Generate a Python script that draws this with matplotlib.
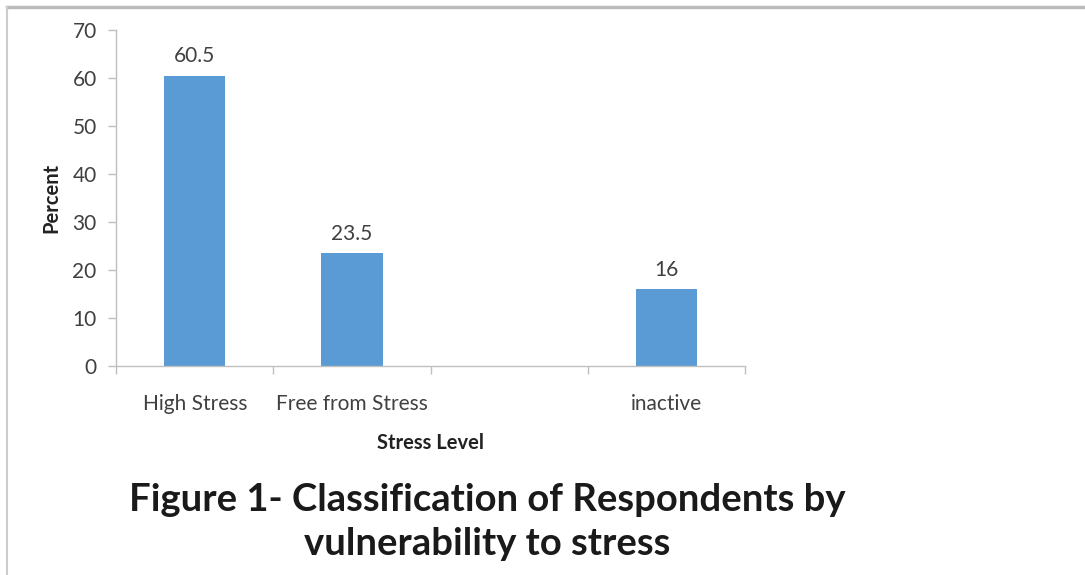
import matplotlib.pyplot as plt
from matplotlib.lines import Line2D
import numpy as np

categories = ['High Stress', 'Free from Stress', '', 'inactive']
percent = [60.5, 23.5, None, 16]
value_labels = ['60.5', '23.5', '', '16']

plt.rcParams['font.family'] = ['Lato', 'DejaVu Sans']

fig = plt.figure(figsize=(10.85, 5.75), dpi=100)
ax = fig.add_axes([0.107, 0.3635, 0.58, 0.5845])

x = np.arange(len(categories))
for xi, v, lab in zip(x, percent, value_labels):
    if v is None:
        continue
    ax.bar(xi, v, width=0.39, color='#5B9BD5')
    ax.text(xi, v + 2.0, lab, ha='center', va='bottom', fontsize=15, color='#404040')

ax.set_xlim(-0.5, len(categories) - 0.5)
ax.set_ylim(0, 70)
ax.set_yticks(range(0, 71, 10))
ax.set_xticks(x)
ax.set_xticklabels(categories)
ax.set_xticks(np.arange(-0.5, len(categories), 1), minor=True)
ax.tick_params(axis='x', which='major', length=0, pad=20, labelsize=15, labelcolor='#404040')
ax.tick_params(axis='x', which='minor', length=6, width=1, color='#BFBFBF', direction='out')
ax.tick_params(axis='y', length=6, width=1, color='#BFBFBF', pad=8, labelsize=15, labelcolor='#404040')

for s in ['top', 'right']:
    ax.spines[s].set_visible(False)
for s in ['left', 'bottom']:
    ax.spines[s].set_color('#BFBFBF')
    ax.spines[s].set_linewidth(1)

ax.set_xlabel('Stress Level', fontsize=14.5, fontweight='bold', color='#222222', labelpad=14)
ax.set_ylabel('Percent', fontsize=14.5, fontweight='bold', color='#222222', labelpad=8)

fig.text(0.449, 0.092, 'Figure 1- Classification of Respondents by\nvulnerability to stress',
         ha='center', va='center', fontsize=27.5, fontweight='bold', color='#1a1a1a',
         linespacing=1.38)

# frame edge along top and left
fig.add_artist(Line2D([0.0065, 1], [0.988, 0.988], color='#BBBBBB', lw=2.5, transform=fig.transFigure))
fig.add_artist(Line2D([0.0065, 0.0065], [0, 0.988], color='#CCCCCC', lw=1.5, transform=fig.transFigure))

fig.savefig('out.png', dpi=100, facecolor='white')
